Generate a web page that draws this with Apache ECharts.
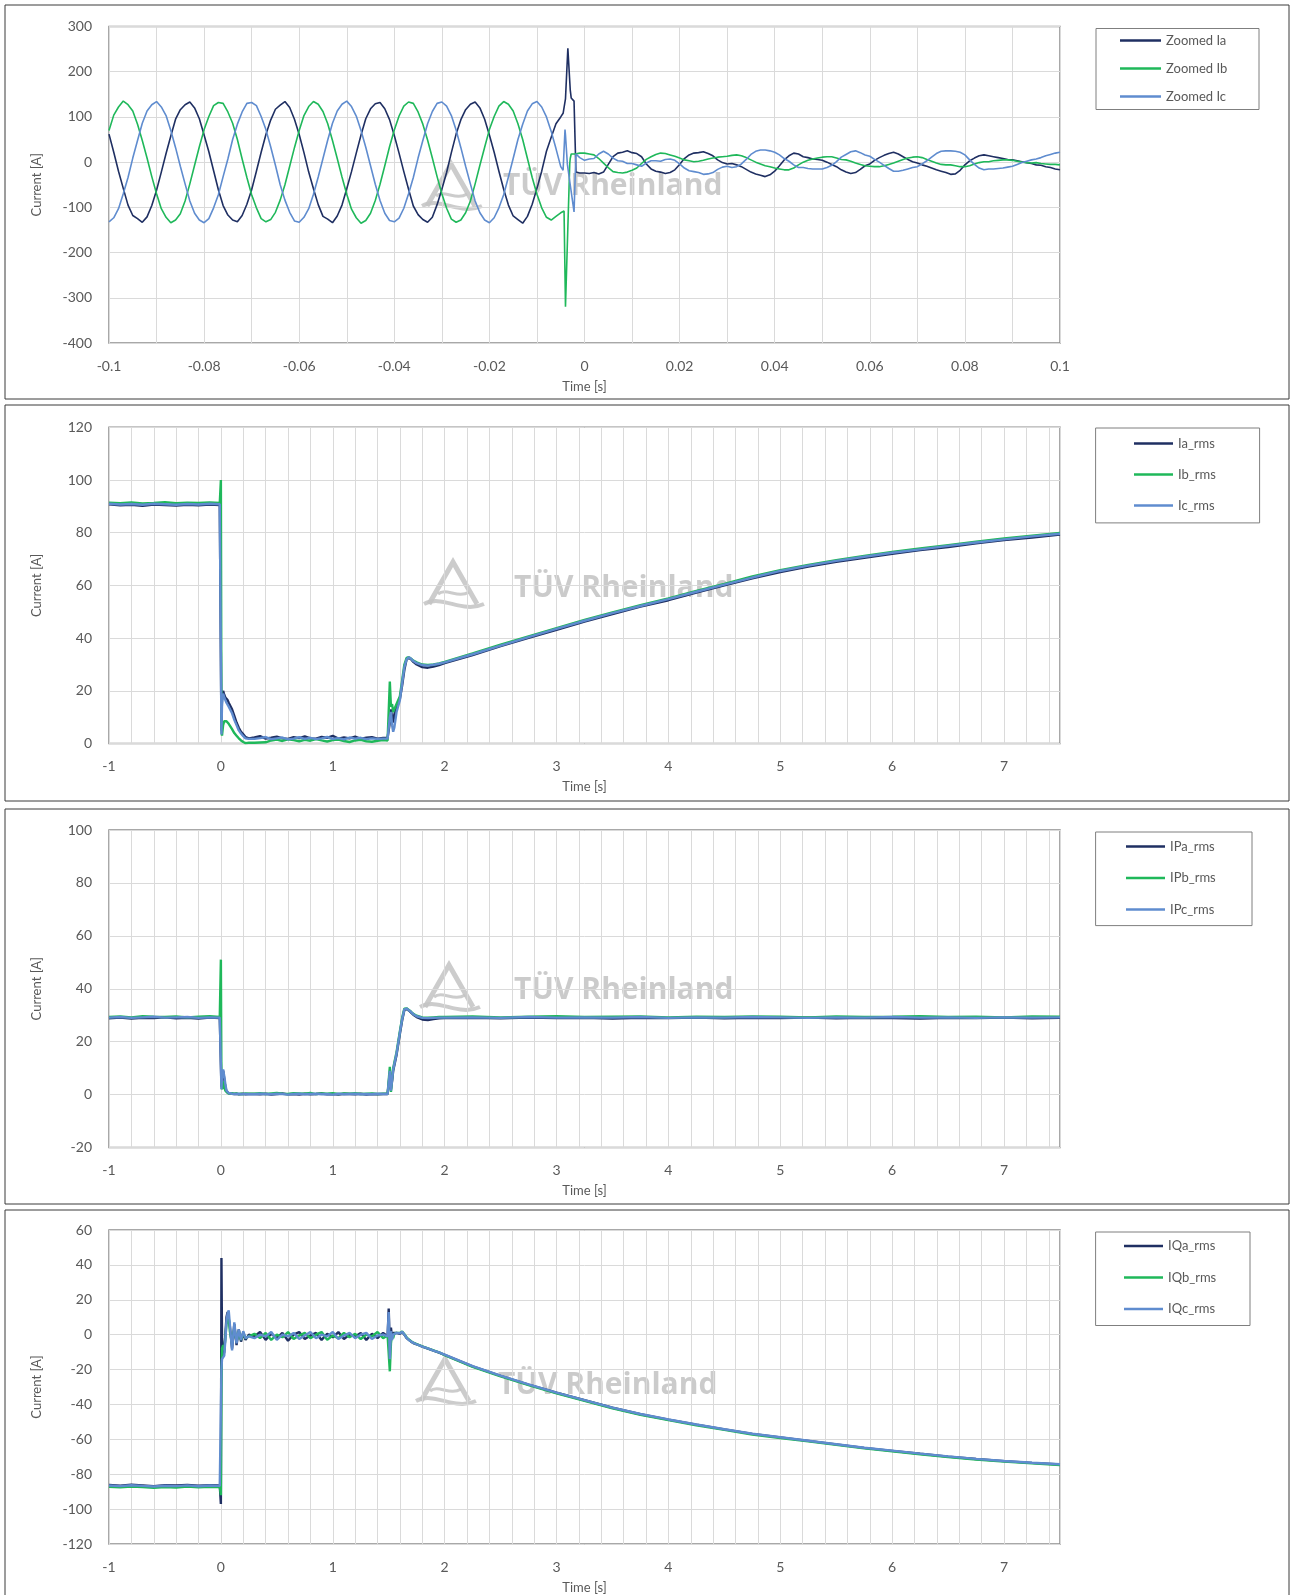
<!DOCTYPE html>
<html>
<head>
<meta charset="utf-8">
<title>Fault ride-through currents</title>
<script src="https://cdn.jsdelivr.net/npm/echarts@6/dist/echarts.min.js"></script>
<style>
  html, body { margin: 0; padding: 0; background: #ffffff; }
  #chart { width: 1293px; height: 1595px; }
</style>
</head>
<body>
<div id="chart"></div>
<script>
// ---------- Panel 1: instantaneous phase currents around the fault (1 ms samples from -0.1 s) ----------
const zoomIa = [
  62, 22, -20, -58, -95, -118, -125, -133, -121, -96, -62, -22, 19, 58, 95, 116, 127, 133, 120, 96,
  60, 23, -19, -61, -96, -117, -128, -132, -118, -93, -61, -20, 22, 61, 93, 117, 126, 134, 121, 95,
  61, 21, -22, -59, -94, -120, -126, -134, -119, -95, -59, -21, 20, 60, 96, 118, 129, 132, 118, 94,
  59, 20, -21, -60, -97, -116, -127, -133, -122, -94, -60, -23, 21, 62, 94, 116, 128, 133, 120, 95,
  60, 22, -20, -60, -95, -119, -127, -135, -120, -93, -58, -20, 24, 55, 85, 100, 140, 160, 55, -24,
  -24, -25, -23, -26, -22, -5, 12, 20, 22, 25, 21, 19, 12, -4, -15, -20, -22, -25, -23, -17,
  -5, 8, 16, 20, 21, 23, 19, 14, 5, -1, -4, -3, -6, -10, -16, -22, -26, -29, -32, -28,
  -20, -8, 5, 14, 20, 18, 12, 10, 7, 6, 4, 0, -5, -10, -17, -22, -25, -23, -16, -8,
  -4, 4, 10, 15, 19, 22, 18, 12, 6, 1, -2, -6, -9, -13, -17, -20, -23, -27, -26, -18,
  -6, 3, 9, 14, 16, 14, 12, 10, 8, 6, 5, 3, 1, -1, -3, -6, -7, -10, -12, -15,
  -17
];
const zoomIb = [
  70, 104, 122, 135, 127, 113, 84, 48, 9, -32, -70, -103, -122, -134, -128, -114, -86, -48, -7, 34,
  72, 101, 125, 132, 130, 111, 86, 50, 7, -34, -72, -101, -125, -132, -127, -111, -84, -50, -9, 32,
  70, 103, 123, 134, 128, 112, 85, 48, 8, -33, -71, -104, -123, -135, -129, -113, -85, -49, -8, 34,
  71, 102, 124, 133, 130, 111, 84, 49, 9, -32, -70, -102, -126, -133, -128, -112, -86, -48, -7, 33,
  72, 101, 124, 134, 128, 113, 85, 50, 8, -34, -71, -101, -122, -128, -120, -112, -320, 8, 18, 20,
  20, 18, 16, 8, -2, -12, -21, -23, -24, -22, -18, -13, -3, 6, 12, 17, 20, 19, 16, 13,
  9, 5, 3, 1, 2, 4, 7, 9, 11, 12, 13, 15, 16, 14, 10, 5, 0, -4, -8, -10,
  -13, -15, -17, -17, -13, -6, 0, 4, 7, 9, 11, 12, 12, 9, 6, 5, 2, -2, -5, -8,
  -9, -10, -10, -8, -5, -2, 2, 6, 9, 11, 12, 10, 6, 2, -2, -5, -6, -6, -8, -10,
  -10, -8, -4, -1, 1, 1, 3, 4, 5, 5, 4, 2, 0, -1, -2, -1, -3, -4, -5, -5,
  -6
];
const zoomIc = [
  -132, -123, -103, -70, -34, 9, 48, 86, 113, 127, 134, 122, 103, 70, 32, -9, -48, -86, -113, -128,
  -134, -125, -101, -72, -32, 7, 50, 84, 111, 130, 132, 125, 101, 72, 34, -7, -50, -84, -111, -130,
  -133, -122, -103, -71, -33, 8, 49, 86, 113, 128, 135, 123, 102, 70, 33, -8, -49, -85, -113, -129,
  -132, -124, -102, -70, -34, 9, 48, 85, 112, 130, 133, 124, 103, 71, 32, -9, -48, -86, -112, -128,
  -134, -123, -101, -72, -33, 8, 50, 84, 113, 129, 134, 122, 100, 68, 30, -10, 60, -50, -45, 10,
  4, 7, 8, 18, 24, 18, 9, 3, 2, -3, -3, -6, -9, -2, 3, 3, 2, 6, 7, 4,
  -4, -13, -19, -21, -23, -27, -26, -23, -16, -11, -9, -12, -10, -4, 6, 17, 24, 27, 27, 25,
  22, 16, 8, 2, -6, -12, -12, -14, -15, -15, -15, -12, -7, 1, 11, 17, 23, 25, 21, 16,
  13, 6, 0, -7, -14, -20, -20, -18, -15, -12, -10, -4, 3, 11, 19, 24, 25, 25, 24, 22,
  16, 5, -5, -13, -17, -15, -15, -14, -13, -11, -9, -5, -1, 2, 5, 7, 10, 14, 17, 20,
  22
];
// extra sub-millisecond samples captured during the fault transient
const faultTimeIa = [-0.0045, -0.0035, -0.0028, -0.0022, -0.0018];
const faultIa     = [108, 252, 142, 135, -22];
const faultTimeIb = [-0.0043, -0.0031, -0.0028];
const faultIb     = [-108, -3, 18];
const faultTimeIc = [-0.0045, -0.0041, -0.0036, -0.0022, -0.0018];
const faultIc     = [-18, 72, -5, -110, 18];
const zoomLabelStep = 0.02;

// ---------- Panels 2-4: RMS values, shared time base [s] ----------
const rmsTime = [
  -1, -0.9, -0.8, -0.7, -0.6, -0.5, -0.4, -0.3, -0.2, -0.1, -0.01,
  0, 0.005, 0.01, 0.02, 0.03, 0.04, 0.05, 0.06, 0.07, 0.08, 0.1, 0.12, 0.14, 0.16, 0.18, 0.2, 0.22, 0.25,
  0.3, 0.35, 0.4, 0.45, 0.5, 0.55, 0.6, 0.65, 0.7, 0.75, 0.8, 0.85, 0.9, 0.95, 1.0, 1.05, 1.1, 1.15, 1.2, 1.25, 1.3, 1.35, 1.4, 1.45,
  1.49, 1.5, 1.51, 1.52, 1.53, 1.54, 1.55, 1.57, 1.6, 1.62, 1.64, 1.66, 1.68, 1.7, 1.72, 1.75, 1.8, 1.85, 1.9, 1.95,
  2, 2.25, 2.5, 2.75, 3, 3.25, 3.5, 3.75, 4, 4.25, 4.5, 4.75, 5, 5.25, 5.5, 5.75, 6, 6.25, 6.5, 6.75, 7, 7.25, 7.5
];
const timeLabelStep = 1;

// Phase current RMS [A]
const iaRms = [
  90.8, 90.4, 90.6, 90.2, 90.7, 90.5, 90.3, 90.6, 90.4, 90.7, 90.5,
  90.5, 5, 18, 20, 18.5, 17.5, 17, 16.5, 15.5, 15, 13, 10.5, 8, 6, 4.5, 3.5, 2.5, 2,
  2.3, 2.8, 1.9, 2.2, 2.6, 2.0, 1.8, 2.4, 2.1, 2.7, 2.0, 1.9, 2.5, 2.2, 2.9, 1.9, 2.3, 2.0, 2.6, 1.8, 2.2, 2.4, 1.9, 2.1,
  2.2, 2.5, 8, 13, 10, 8, 11, 14, 17, 22, 28, 32, 32.5, 32, 31, 30, 29, 28.8, 29.2, 29.8,
  30.5, 33.6, 37.0, 40.1, 43.2, 46.3, 49.1, 52.0, 54.4, 57.3, 60.0, 62.7, 65.1, 67.2, 69.0, 70.5, 72.0, 73.4, 74.6, 76.0, 77.2, 78.2, 79.3
];
const ibRms = [
  91.4, 91.2, 91.5, 91.1, 91.3, 91.6, 91.2, 91.4, 91.3, 91.5, 91.3,
  100, 6, 3, 7, 8.5, 9, 8.5, 8, 7.5, 7, 5.5, 4, 3, 2, 1.2, 0.6, 0.2, 0.3,
  0.3, 0.4, 0.5, 1.2, 1.5, 1.0, 1.6, 1.3, 0.9, 1.4, 1.1, 1.7, 1.2, 0.8, 1.3, 1.5, 1.0, 0.6, 1.2, 1.4, 0.9, 0.7, 1.1, 1.3,
  1.2, 1.5, 23.5, 14, 15, 12, 13, 15, 18, 24, 30, 32.5, 32.8, 32.2, 31.5, 30.8, 30, 29.8, 30, 30.4,
  31.0, 34.2, 37.5, 40.7, 43.8, 46.9, 49.8, 52.5, 55.1, 57.9, 60.6, 63.4, 65.8, 67.8, 69.6, 71.2, 72.7, 74.0, 75.3, 76.6, 77.8, 78.9, 79.9
];
const icRms = [
  91.0, 90.7, 90.9, 90.6, 91.0, 90.8, 90.6, 90.9, 90.7, 91.0, 90.8,
  90.8, 3.5, 15, 19, 17.5, 16.5, 15.5, 15, 14, 13.5, 11.5, 9, 7, 5, 3.8, 2.8, 2, 1.8,
  1.8, 2.1, 2.5, 1.7, 2.0, 2.3, 1.6, 1.9, 2.4, 1.8, 2.2, 1.7, 2.0, 2.5, 1.8, 2.1, 1.6, 2.3, 1.9, 2.2, 1.7, 2.0, 1.8, 1.9,
  1.9, 2.2, 10, 12, 7, 4.5, 6, 12, 16.5, 23, 29, 32, 32.8, 32.2, 31.3, 30.5, 29.8, 29.6, 29.9, 30.3,
  30.8, 33.9, 37.2, 40.4, 43.5, 46.6, 49.5, 52.2, 54.8, 57.6, 60.3, 63.0, 65.5, 67.5, 69.3, 70.9, 72.4, 73.7, 75.0, 76.3, 77.5, 78.6, 79.6
];

// Active current component RMS [A]
const ipaRms = [
  28.8, 29.1, 28.7, 29.0, 28.9, 29.2, 28.8, 29.0, 28.7, 29.1, 28.9,
  29.0, 3, 6, 9, 6, 3, 1.2, 0.8, 0.5, 0.4, 0.3, 0.2, 0.3, 0.1, 0.2, 0.3, 0.1, 0.2,
  0.2, 0.1, 0.3, 0.0, 0.2, 0.4, 0.1, 0.2, 0.0, 0.3, 0.1, 0.2, 0.4, 0.1, 0.2, 0.0, 0.3, 0.2, 0.1, 0.3, 0.0, 0.2, 0.1, 0.2,
  0.2, 0.5, 8, 2, 5, 9, 11, 15, 23, 28, 32, 32.3, 31.8, 31, 30.2, 29.3, 28.4, 28.2, 28.5, 28.8,
  28.9, 29.0, 28.8, 29.1, 28.9, 29.0, 28.7, 29.0, 28.9, 29.1, 28.8, 29.0, 28.9, 29.1, 28.8, 29.0, 28.9, 28.7, 29.0, 28.9, 29.1, 28.8, 29.0
];
const ipbRms = [
  29.3, 29.5, 29.2, 29.6, 29.4, 29.3, 29.5, 29.2, 29.4, 29.6, 29.3,
  51, 4, 2, 5, 3, 1.5, 0.8, 0.6, 0.5, 0.4, 0.5, 0.3, 0.4, 0.2, 0.3, 0.2, 0.4, 0.3,
  0.3, 0.5, 0.2, 0.4, 0.6, 0.3, 0.2, 0.5, 0.4, 0.3, 0.6, 0.2, 0.4, 0.3, 0.5, 0.2, 0.4, 0.3, 0.5, 0.2, 0.3, 0.4, 0.2, 0.3,
  0.3, 0.6, 10.5, 1, 6, 10, 12, 16, 24, 29, 32.5, 32.6, 32, 31.3, 30.5, 29.8, 29.2, 29.1, 29.2, 29.3,
  29.3, 29.5, 29.2, 29.4, 29.6, 29.3, 29.4, 29.5, 29.2, 29.4, 29.3, 29.5, 29.4, 29.2, 29.5, 29.3, 29.4, 29.6, 29.3, 29.4, 29.2, 29.5, 29.4
];
const ipcRms = [
  29.1, 29.3, 29.0, 29.2, 29.4, 29.1, 29.2, 29.3, 29.0, 29.2, 29.1,
  29.1, 2, 7, 9.5, 7, 4, 1.5, 0.9, 0.6, 0.5, 0.3, 0.2, 0.2, 0.3, 0.1, 0.2, 0.2, 0.1,
  0.1, 0.3, 0.2, 0.1, 0.3, 0.2, 0.0, 0.2, 0.3, 0.1, 0.2, 0.3, 0.1, 0.2, 0.0, 0.3, 0.1, 0.2, 0.3, 0.1, 0.2, 0.1, 0.3, 0.2,
  0.2, 0.4, 9, 1.5, 5.5, 9.5, 11.5, 15.5, 23.5, 28.5, 32.2, 32.5, 31.9, 31.2, 30.4, 29.6, 29, 28.9, 29, 29.1,
  29.1, 29.2, 29.0, 29.3, 29.1, 29.2, 29.1, 29.3, 29.0, 29.2, 29.1, 29.3, 29.2, 29.0, 29.2, 29.1, 29.3, 29.1, 29.2, 29.0, 29.2, 29.1, 29.2
];

// Reactive current component RMS [A]
const iqaRms = [
  -86.2, -86.6, -86.0, -86.4, -86.8, -86.3, -86.5, -86.1, -86.6, -86.3, -86.4,
  -97, 44, -2, -12, -10, 0, 10, 13, 14, 5, -8, 6, -6, 3, -4, 1, -3, 0,
  -1, 1.5, -3, 0.5, -2, 1, -3.5, 0, 1.5, -2.5, -0.5, 1, -3, 0.5, -1.5, 1.5, -2.5, 0, -1, 1, -3, 0.5, -2, 1,
  -1, 15, -8, 4, -2, 1, 0, 1, 0.5, 1.5, 0, -2, -3, -4, -4.8, -5.5, -6.8, -8, -9.2, -10.3,
  -11.6, -18.2, -23.6, -28.6, -33.3, -37.6, -41.9, -45.6, -48.7, -51.6, -54.3, -56.9, -58.9, -60.9, -62.9, -64.9, -66.6, -68.3, -69.9, -71.3, -72.5, -73.5, -74.4
];
const iqbRms = [
  -87.2, -87.5, -87.0, -87.4, -87.8, -87.3, -87.6, -87.1, -87.5, -87.2, -87.4,
  -92, -30, -8, -6, -9, -2, 6, 8, 10, 2, -5, 4, -4, 2, -3, 1, -2, -1,
  0.5, -2, 1, -3, 0, -1.5, 1.5, -2.5, -0.5, 1, -2, 0, 1.5, -3, -0.5, -2, 1, -1.5, 0.5, -2.5, 0, -1, 1.5, -2,
  -0.5, -1, -21, -5, 0, -2, 0.5, 1, 1, 1.8, 0.2, -1.5, -2.8, -3.8, -4.6, -5.4, -6.7, -7.8, -9, -10.1,
  -11.8, -18.5, -23.9, -28.9, -33.6, -37.9, -42.2, -45.9, -49.0, -51.9, -54.6, -57.2, -59.2, -61.2, -63.2, -65.2, -66.9, -68.6, -70.2, -71.6, -72.8, -73.8, -74.7
];
const iqcRms = [
  -86.5, -86.8, -86.3, -86.7, -87.0, -86.6, -86.8, -86.4, -86.9, -86.5, -86.7,
  -87, -20, -14, -15, -12, -3, 8, 12, 14, 6, -9, 7, -5, 3, -3, 2, -2, -1,
  -2, 0, -1, 1.5, -3, 0, -1, 1, -2.5, -0.5, 1.5, -2, 0, -1, 1.5, -2.5, -0.5, 1, -2, 0, 1, -2.5, -0.5, 0,
  -1, 13, -14, 2, -3, 0, -0.5, 1, 0.8, 1.6, 0.1, -1.8, -3, -3.9, -4.7, -5.5, -6.8, -7.9, -9.1, -10.2,
  -11.5, -18.0, -23.5, -28.5, -33.2, -37.5, -41.8, -45.5, -48.6, -51.5, -54.2, -56.8, -58.8, -60.8, -62.8, -64.8, -66.5, -68.2, -69.8, -71.2, -72.4, -73.4, -74.3
];

// ---------- styling ----------
const COLOR_A = '#1f2f62';
const COLOR_B = '#1fb85a';
const COLOR_C = '#5f8ccf';
const TEXT = '#595959';
const FONT = 'Lato, "Liberation Sans", sans-serif';
const GRIDLINE = '#dadada';
const FRAME = '#8c8c8c';

// sample clock for the zoomed record: 1 ms steps from -0.1 s
const zoomTime = zoomIa.map((_, k) => Math.round((-0.1 + k * 0.001) * 10000) / 10000);

function merged(times, values, extraT, extraV) {
  const pts = times.map((t, i) => [t, values[i]]);
  extraT.forEach((t, i) => pts.push([t, extraV[i]]));
  return pts.sort((a, b) => a[0] - b[0]);
}
function pairs(times, values) { return times.map((t, i) => [t, values[i]]); }

// labels only on every n-th grid line (grid lines sit on every axis interval)
function stepLabel(step, decimals) {
  return function (v) {
    const r = v / step;
    if (Math.abs(r - Math.round(r)) > 1e-6) return '';
    const s = Number((Math.round(r) * step).toFixed(decimals));
    return String(s === 0 ? 0 : s);
  };
}

const grids = [
  { left: 109, top: 26.5, width: 951, height: 316.5 },
  { left: 109, top: 427.3, width: 951, height: 316.3 },
  { left: 109, top: 830, width: 951, height: 317.5 },
  { left: 109, top: 1230, width: 951, height: 317.3 }
].map(g => Object.assign(g, { show: true, borderColor: FRAME, borderWidth: 1.5, backgroundColor: 'transparent' }));

function xAxisFor(idx, min, max, interval, formatter) {
  return {
    type: 'value', gridIndex: idx, min, max, interval, position: 'bottom',
    axisLine: { show: false, onZero: false },
    axisTick: { show: false },
    axisLabel: { formatter, showMaxLabel: max === 0.1, color: TEXT, fontSize: 14, fontFamily: FONT, margin: 16 },
    splitLine: { show: true, lineStyle: { color: GRIDLINE, width: 1 } },
    name: 'Time [s]', nameLocation: 'middle', nameGap: 37,
    nameTextStyle: { color: TEXT, fontSize: 13, fontFamily: FONT }
  };
}
function yAxisFor(idx, min, max, interval) {
  return {
    type: 'value', gridIndex: idx, min, max, interval, position: 'left',
    axisLine: { show: false, onZero: false },
    axisTick: { show: false },
    axisLabel: { color: TEXT, fontSize: 14, fontFamily: FONT, margin: 17 },
    splitLine: { show: true, lineStyle: { color: GRIDLINE, width: 1 } },
    name: 'Current [A]', nameLocation: 'middle', nameGap: 66, nameRotate: 90,
    nameTextStyle: { color: TEXT, fontSize: 13, fontFamily: FONT }
  };
}
function lineSeries(name, idx, data, color, width) {
  return {
    type: 'line', name, xAxisIndex: idx, yAxisIndex: idx, data,
    showSymbol: false, symbol: 'none', silent: true, animation: false,
    color, lineStyle: { color, width }, itemStyle: { color },
    emphasis: { disabled: true }
  };
}
function legendFor(names, left, top, padding, itemGap, itemWidth, textWidth) {
  return {
    show: true, orient: 'vertical', left, top, padding, itemGap,
    itemWidth, itemHeight: 2.5, icon: 'rect', selectedMode: false,
    borderColor: '#7f7f7f', borderWidth: 1, backgroundColor: '#ffffff',
    textStyle: { color: TEXT, fontSize: 13, fontFamily: FONT, lineHeight: 14, width: textWidth },
    data: names
  };
}
function watermark(lx, ly, tx, ty) {
  const stroke = 'rgba(195,195,195,0.85)';
  return {
    type: 'group', z: 1, silent: true,
    children: [
      { type: 'polyline', x: lx, y: ly, shape: { points: [[5, 46], [29, 4], [53, 46]] },
        style: { stroke, lineWidth: 5, fill: null, lineJoin: 'miter' } },
      { type: 'bezierCurve', x: lx, y: ly,
        shape: { x1: 0, y1: 46, cpx1: 18, cpy1: 36, cpx2: 38, cpy2: 56, x2: 60, y2: 46 },
        style: { stroke, lineWidth: 4, fill: null } },
      { type: 'bezierCurve', x: lx, y: ly,
        shape: { x1: 14, y1: 36, cpx1: 22, cpy1: 29, cpx2: 34, cpy2: 41, x2: 45, y2: 34 },
        style: { stroke, lineWidth: 3, fill: null } },
      { type: 'text', x: tx, y: ty,
        style: { text: 'TÜV Rheinland', fontSize: 30, fontWeight: 'bold', fontFamily: '"Open Sans", sans-serif',
                 fill: 'rgba(190,190,190,0.8)', verticalAlign: 'middle' } }
    ]
  };
}
function frame(y, h) {
  return { type: 'rect', z: 0, silent: true, shape: { x: 5, y, width: 1284, height: h },
           style: { stroke: '#3a3a3a', lineWidth: 1, fill: null } };
}

const option = {
  backgroundColor: '#ffffff',
  animation: false,
  grid: grids,
  xAxis: [
    xAxisFor(0, -0.1, 0.1, 0.01, stepLabel(zoomLabelStep, 2)),
    xAxisFor(1, -1, 7.5, 0.2, stepLabel(timeLabelStep, 0)),
    xAxisFor(2, -1, 7.5, 0.2, stepLabel(timeLabelStep, 0)),
    xAxisFor(3, -1, 7.5, 0.2, stepLabel(timeLabelStep, 0))
  ],
  yAxis: [
    yAxisFor(0, -400, 300, 100),
    yAxisFor(1, 0, 120, 20),
    yAxisFor(2, -20, 100, 20),
    yAxisFor(3, -120, 60, 20)
  ],
  legend: [
    legendFor(['Zoomed Ia', 'Zoomed Ib', 'Zoomed Ic'], 1096, 28.5, [5, 23, 6, 24], 14, 41, 70),
    legendFor(['Ia_rms', 'Ib_rms', 'Ic_rms'], 1095.6, 428, [8.5, 31.6, 10.4, 38.4], 17, 39, 50),
    legendFor(['IPa_rms', 'IPb_rms', 'IPc_rms'], 1095.6, 832, [7.4, 27, 9.2, 30.4], 17.5, 39, 55),
    legendFor(['IQa_rms', 'IQb_rms', 'IQc_rms'], 1095.6, 1232, [7, 27, 9.5, 28.4], 17.5, 39, 55)
  ],
  graphic: [
    frame(5, 394), frame(405, 396), frame(809, 395), frame(1210, 400),
    watermark(422, 160, 503, 186),
    watermark(424, 558, 514, 588),
    watermark(420, 961, 514, 990),
    watermark(416, 1355, 498, 1385)
  ],
  series: [
    lineSeries('Zoomed Ia', 0, merged(zoomTime, zoomIa, faultTimeIa, faultIa), COLOR_A, 1.6),
    lineSeries('Zoomed Ib', 0, merged(zoomTime, zoomIb, faultTimeIb, faultIb), COLOR_B, 1.6),
    lineSeries('Zoomed Ic', 0, merged(zoomTime, zoomIc, faultTimeIc, faultIc), COLOR_C, 1.6),
    lineSeries('Ia_rms', 1, pairs(rmsTime, iaRms), COLOR_A, 2.4),
    lineSeries('Ib_rms', 1, pairs(rmsTime, ibRms), COLOR_B, 2.4),
    lineSeries('Ic_rms', 1, pairs(rmsTime, icRms), COLOR_C, 2.4),
    lineSeries('IPa_rms', 2, pairs(rmsTime, ipaRms), COLOR_A, 2.4),
    lineSeries('IPb_rms', 2, pairs(rmsTime, ipbRms), COLOR_B, 2.4),
    lineSeries('IPc_rms', 2, pairs(rmsTime, ipcRms), COLOR_C, 2.4),
    lineSeries('IQa_rms', 3, pairs(rmsTime, iqaRms), COLOR_A, 2.4),
    lineSeries('IQb_rms', 3, pairs(rmsTime, iqbRms), COLOR_B, 2.4),
    lineSeries('IQc_rms', 3, pairs(rmsTime, iqcRms), COLOR_C, 2.4)
  ]
};

const chart = echarts.init(document.getElementById('chart'), null, { renderer: 'canvas', width: 1293, height: 1595 });
chart.setOption(option);
</script>
</body>
</html>
